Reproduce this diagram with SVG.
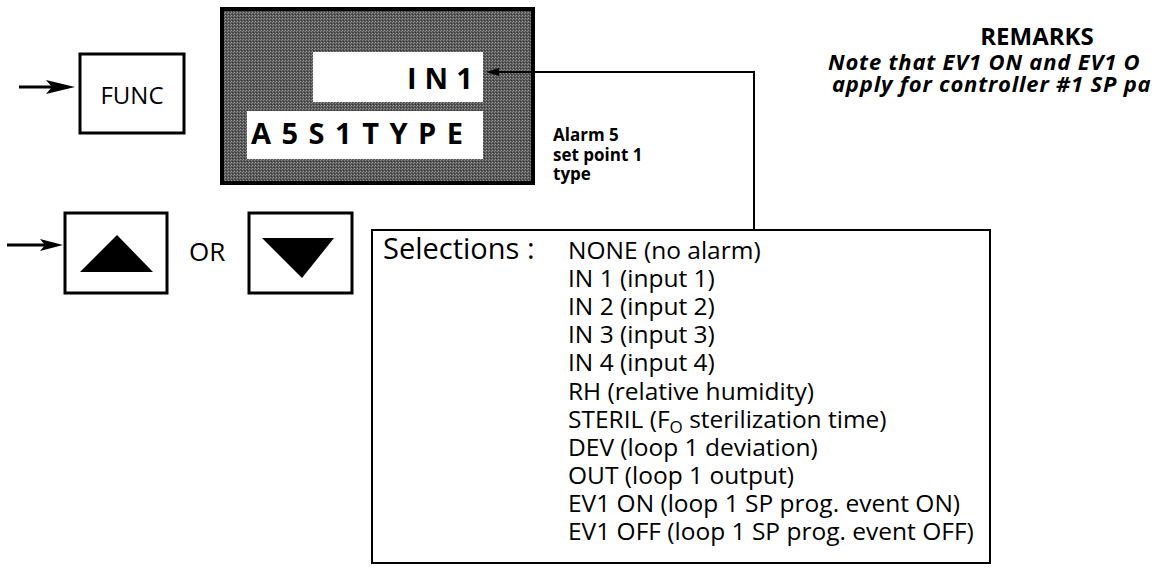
<svg xmlns="http://www.w3.org/2000/svg" width="1159" height="571" viewBox="0 0 1159 571">
<defs>
<pattern id="dither" width="3" height="3" patternUnits="userSpaceOnUse">
<rect width="3" height="3" fill="#585858"/>
<rect x="0" y="0" width="1" height="1" fill="#989898"/>
<rect x="2" y="1" width="1" height="1" fill="#868686"/>
<rect x="1" y="2" width="1" height="1" fill="#333"/>
</pattern>
</defs>
<style>
.t{font-family:"Open Sans","Noto Sans","Liberation Sans",sans-serif;fill:#000}
.btn{fill:#fff;stroke:#000;stroke-width:3}
.lcd{font-family:"Open Sans","Noto Sans","Liberation Sans",sans-serif;font-weight:700;font-size:29px;fill:#000}
.sel{font-size:24.5px}
.ln{fill:none;stroke:#000;stroke-width:2}
.ar{fill:#000;stroke:none}
</style>
<rect width="1159" height="571" fill="#fff"/>

<g id="func-input">
<line x1="19" y1="87" x2="60" y2="87" stroke="#000" stroke-width="3"/>
<polygon class="ar" points="75,87 46,80 52,87 46,94"/>
</g>
<g id="func-key">
<rect class="btn" x="80" y="54" width="104" height="79"/>
<text class="t" x="132" y="104" font-size="24" text-anchor="middle">FUNC</text>
</g>

<g id="display">
<rect x="222" y="9" width="311" height="174" fill="url(#dither)" stroke="#000" stroke-width="4"/>
<rect x="313" y="52" width="170" height="50" fill="#fff"/>
<rect x="247" y="111" width="236" height="48" fill="#fff"/>
<text class="lcd" x="407" y="89" letter-spacing="8">IN1</text>
<text class="lcd" x="251" y="144" letter-spacing="10.5">A5S1TYPE</text>
</g>

<g id="param-label">
<text class="t" font-size="17" font-weight="700">
<tspan x="553" y="141">Alarm 5</tspan>
<tspan x="553" y="161">set point 1</tspan>
<tspan x="553" y="180">type</tspan>
</text>
</g>

<g id="remarks">
<text class="t" x="1037" y="45" font-size="24" font-weight="700" text-anchor="middle">REMARKS</text>
<text class="t" font-size="22" font-weight="700" font-style="italic" letter-spacing="0.8">
<tspan x="828" y="70">Note that EV1 ON and EV1 O</tspan>
<tspan x="832" y="92">apply for controller #1 SP pa</tspan>
</text>
</g>

<g id="updown-input">
<line x1="7" y1="245" x2="50" y2="245" stroke="#000" stroke-width="3"/>
<polygon class="ar" points="63,245 40,239 45,245 40,251"/>
</g>
<g id="up-key">
<rect class="btn" x="65" y="213" width="102" height="80"/>
<polygon class="ar" points="80,272 153,272 117,235"/>
</g>
<g id="or-label">
<text class="t" x="189" y="261" font-size="26">OR</text>
</g>
<g id="down-key">
<rect class="btn" x="249" y="213" width="103" height="80"/>
<polygon class="ar" points="262,238 334,238 302,278"/>
</g>

<g id="selections">
<rect x="372" y="230" width="618" height="333" fill="#fff" stroke="#000" stroke-width="2"/>
<text class="t" x="383" y="259" font-size="29">Selections :</text>
<text class="t sel">
<tspan x="568" y="259">NONE (no alarm)</tspan>
<tspan x="568" y="287.1">IN 1 (input 1)</tspan>
<tspan x="568" y="315.2">IN 2 (input 2)</tspan>
<tspan x="568" y="343.3">IN 3 (input 3)</tspan>
<tspan x="568" y="371.4">IN 4 (input 4)</tspan>
<tspan x="568" y="399.5">RH (relative humidity)</tspan>
</text>
<text class="t sel" x="568" y="427.6">STERIL (F<tspan font-size="17" dy="5">O</tspan><tspan dy="-5"> sterilization time)</tspan></text>
<text class="t sel">
<tspan x="568" y="455.7">DEV (loop 1 deviation)</tspan>
<tspan x="568" y="483.8">OUT (loop 1 output)</tspan>
<tspan x="568" y="511.9">EV1 ON (loop 1 SP prog. event ON)</tspan>
<tspan x="568" y="540">EV1 OFF (loop 1 SP prog. event OFF)</tspan>
</text>
</g>

<g id="connectors">
<path class="ln" d="M754,230 V72 H494"/>
<polygon class="ar" points="486,72 499,68 499,76"/>
</g>
</svg>
